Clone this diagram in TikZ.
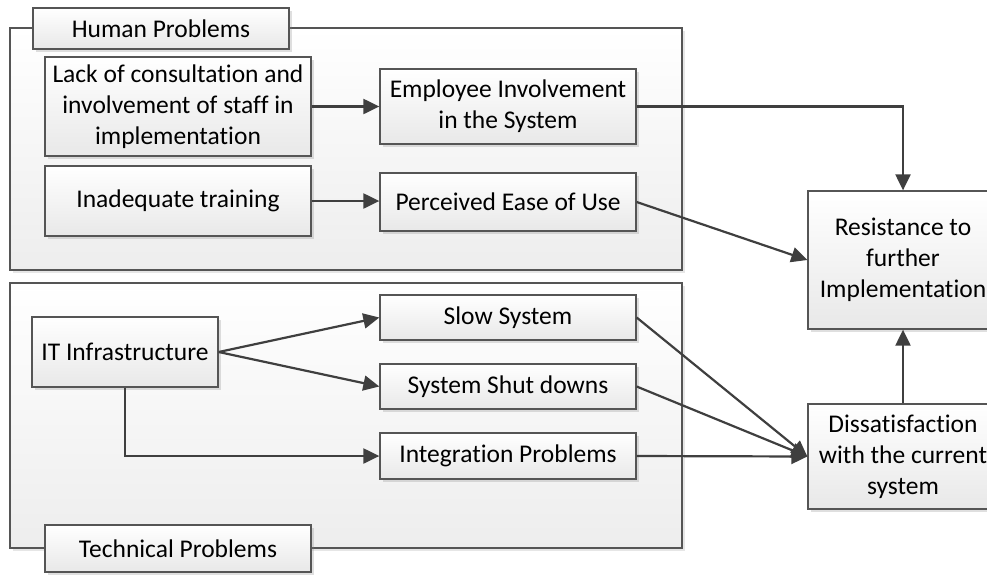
\documentclass[tikz,border=0pt]{standalone}
\usepackage{fontspec}
\setmainfont[Ligatures={NoCommon}]{Carlito}
\usetikzlibrary{arrows.meta,shadows,positioning}
\definecolor{edge}{HTML}{555555}
\definecolor{arr}{HTML}{3F3F3F}
\tikzset{
  boxbase/.style={draw=edge, line width=1.3pt, top color=white, bottom color=black!9,
    drop shadow={opacity=0.25, shadow xshift=3pt, shadow yshift=-3pt, fill=black!50},
    inner sep=0pt, align=center, font=\fontsize{25.5}{31}\selectfont, text=black},
  grp/.style={draw=edge, line width=1.3pt, top color=white, bottom color=black!7,
    drop shadow={opacity=0.2, shadow xshift=3pt, shadow yshift=-3pt, fill=black!50},
    inner sep=0pt},
  conn/.style={draw=arr, line width=2.2pt, -{Triangle[length=16pt,width=15pt]}},
}
\begin{document}
\begin{tikzpicture}[x=1pt,y=-1pt]
\useasboundingbox (0,0) rectangle (987,574);
\clip (0,0) rectangle (987,574);
% groups
\node[grp, minimum width=672pt, minimum height=242pt] (hum) at (346,149) {};
\node[grp, minimum width=672pt, minimum height=265pt] (tech) at (346,415.5) {};
\node[boxbase, minimum width=256pt, minimum height=41pt] (humlab) at (161,28.5) {Human Problems};
\node[boxbase, minimum width=266pt, minimum height=47pt] (techlab) at (178,548.5) {Technical Problems};
% human boxes
\node[boxbase, minimum width=266pt, minimum height=99pt] (lack) at (178,106.5) {Lack of consultation and\\involvement of staff in\\implementation};
\node[boxbase, minimum width=266pt, minimum height=70pt] (train) at (178,201) {Inadequate training};
\node[boxbase, minimum width=256pt, minimum height=75pt] (emp) at (508,106.5) {Employee Involvement\\in the System};
\node[boxbase, minimum width=256pt, minimum height=58pt] (peou) at (508,202) {Perceived Ease of Use};
% technical boxes
\node[boxbase, minimum width=186pt, minimum height=70pt] (it) at (125,352) {IT Infrastructure};
\node[boxbase, minimum width=256pt, minimum height=45pt] (slow) at (508,317.5) {Slow System};
\node[boxbase, minimum width=256pt, minimum height=45pt] (shut) at (508,386.5) {System Shut downs};
\node[boxbase, minimum width=256pt, minimum height=46pt] (integ) at (508,456) {Integration Problems};
% outcome boxes
\node[boxbase, minimum width=190pt, minimum height=138pt] (res) at (903,260) {Resistance to\\further\\Implementation};
\node[boxbase, minimum width=190pt, minimum height=105pt] (dis) at (903,456.5) {Dissatisfaction\\with the current\\system};
% connectors
\draw[conn] (lack) -- (emp);
\draw[conn] (emp.east) -| (res.north);
\draw[conn] (train.east) -- (train.east -| peou.west);
\draw[conn] (peou.east) -- (res.west);
\draw[conn] (it.east) -- (slow.west);
\draw[conn] (it.east) -- (shut.west);
\draw[conn] (it.south) |- (integ.west);
\draw[conn] (slow.east) -- (dis.west);
\draw[conn] (shut.east) -- (dis.west);
\draw[conn] (integ.east) -- (dis.west);
\draw[conn] (dis.north) -- (res.south);
\end{tikzpicture}
\end{document}
